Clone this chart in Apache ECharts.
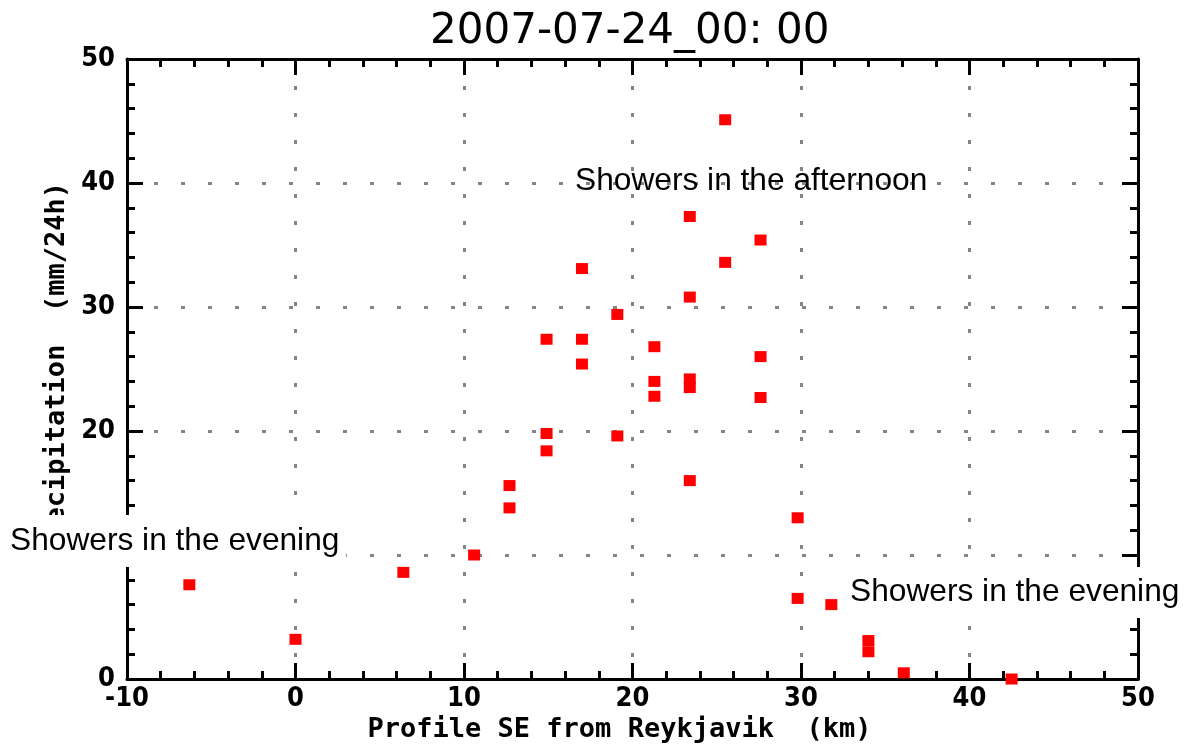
<!DOCTYPE html>
<html>
<head>
<meta charset="utf-8">
<script src="https://cdn.jsdelivr.net/npm/echarts@6/dist/echarts.min.js"></script>
<style>
  html, body { margin: 0; padding: 0; background: #fff; }
  #chart { width: 1191px; height: 749px; }
</style>
</head>
<body>
<div id="chart"></div>
<script>
// profile distance (km) and 24h precipitation (mm)
var distKm = [-6.3, 0, 6.4, 10.6, 12.7, 12.7, 14.9, 14.9, 14.9, 17.0, 17.0, 17.0,
  19.1, 19.1, 21.3, 21.3, 21.3, 23.4, 23.4, 23.4, 23.4, 23.4, 25.5, 25.5,
  27.6, 27.6, 27.6, 29.8, 29.8, 31.8, 34.0, 34.0, 36.1, 42.5]
var precipMm = [7.6, 3.2, 8.6, 10.0, 15.6, 13.8, 27.4, 19.8, 18.4, 33.1, 27.4, 25.4,
  29.4, 19.6, 26.8, 24.0, 22.8, 37.3, 30.8, 24.2, 23.5, 16.0, 45.1, 33.6,
  35.4, 26.0, 22.7, 13.0, 6.5, 6.0, 3.1, 2.2, 0.5, 0.0]
var xTicks = [-10, 0, 10, 20, 30, 40, 50]
var yTicks = [0, 10, 20, 30, 40, 50]

var points = distKm.map(function (d, i) { return [d, precipMm[i]] })

var labelFont = { color: '#000', fontFamily: 'DejaVu Sans Condensed', fontWeight: 'bold', fontSize: 27 }
var tickLine = { color: '#000', width: 3 }

function frameAxis (pos, isX, withLabels) {
  var ticks = isX ? xTicks : yTicks
  return {
    type: 'value',
    position: pos,
    min: ticks[0],
    max: ticks[ticks.length - 1],
    interval: 10,
    axisLine: { show: true, onZero: false, lineStyle: { color: '#000', width: 3 } },
    axisTick: { show: true, inside: true, length: 16, lineStyle: tickLine },
    minorTick: { show: true, splitNumber: 5, length: 8, lineStyle: tickLine },
    axisLabel: withLabels ? Object.assign({ margin: isX ? 6 : 12 }, labelFont) : { show: false },
    splitLine: withLabels ? {
      show: true,
      lineStyle: { color: '#858585', width: 3, type: [4, 23] }
    } : { show: false },
    minorSplitLine: { show: false }
  }
}

var xMain = frameAxis('bottom', true, true)
xMain.name = 'Profile SE from Reykjavik  (km)'
xMain.nameLocation = 'middle'
xMain.nameGap = 34
xMain.nameTextStyle = { color: '#000', fontFamily: 'DejaVu Sans Mono', fontWeight: 'bold', fontSize: 27, padding: [0, 26, 0, 0] }

var yMain = frameAxis('left', false, true)
yMain.name = 'Precipitation  (mm/24h)'
yMain.nameLocation = 'middle'
yMain.nameGap = 54
yMain.nameTextStyle = { color: '#000', fontFamily: 'DejaVu Sans Mono', fontWeight: 'bold', fontSize: 27 }

var noteFont = '31.7px "Liberation Sans", Arial, sans-serif'

var option = {
  animation: false,
  backgroundColor: '#fff',
  title: {
    text: '2007-07-24_00: 00',
    left: 425,
    top: 6,
    textStyle: { color: '#000', fontFamily: 'DejaVu Sans', fontWeight: 'normal', fontSize: 42 }
  },
  grid: { left: 127, right: 53, top: 59, bottom: 70, containLabel: false, outerBoundsMode: 'none' },
  xAxis: [xMain, frameAxis('top', true, false)],
  yAxis: [yMain, frameAxis('right', false, false)],
  series: [
    {
      name: 'precip',
      type: 'scatter',
      xAxisIndex: 0,
      yAxisIndex: 0,
      symbol: 'rect',
      symbolSize: [12, 11],
      itemStyle: { color: '#ff0000', opacity: 1 },
      data: points,
      clip: false,
      z: 5
    }
  ],
  // text notes; the two evening notes sit on white boxes that hide the frame behind them
  graphic: [
    { type: 'rect', z: 100, shape: { x: 0, y: 515, width: 346, height: 52 }, style: { fill: '#fff' } },
    { type: 'text', z: 101, x: 10, y: 541, style: { text: 'Showers in the evening', font: noteFont, fill: '#000', verticalAlign: 'middle' } },
    { type: 'rect', z: 100, shape: { x: 846, y: 567, width: 345, height: 51 }, style: { fill: '#fff' } },
    { type: 'text', z: 101, x: 850, y: 592, style: { text: 'Showers in the evening', font: noteFont, fill: '#000', verticalAlign: 'middle' } },
    { type: 'text', z: 101, x: 575, y: 181, style: { text: 'Showers in the afternoon', font: noteFont, fill: '#000', verticalAlign: 'middle' } }
  ]
}

var chart = echarts.init(document.getElementById('chart'))
chart.setOption(option)
</script>
</body>
</html>
